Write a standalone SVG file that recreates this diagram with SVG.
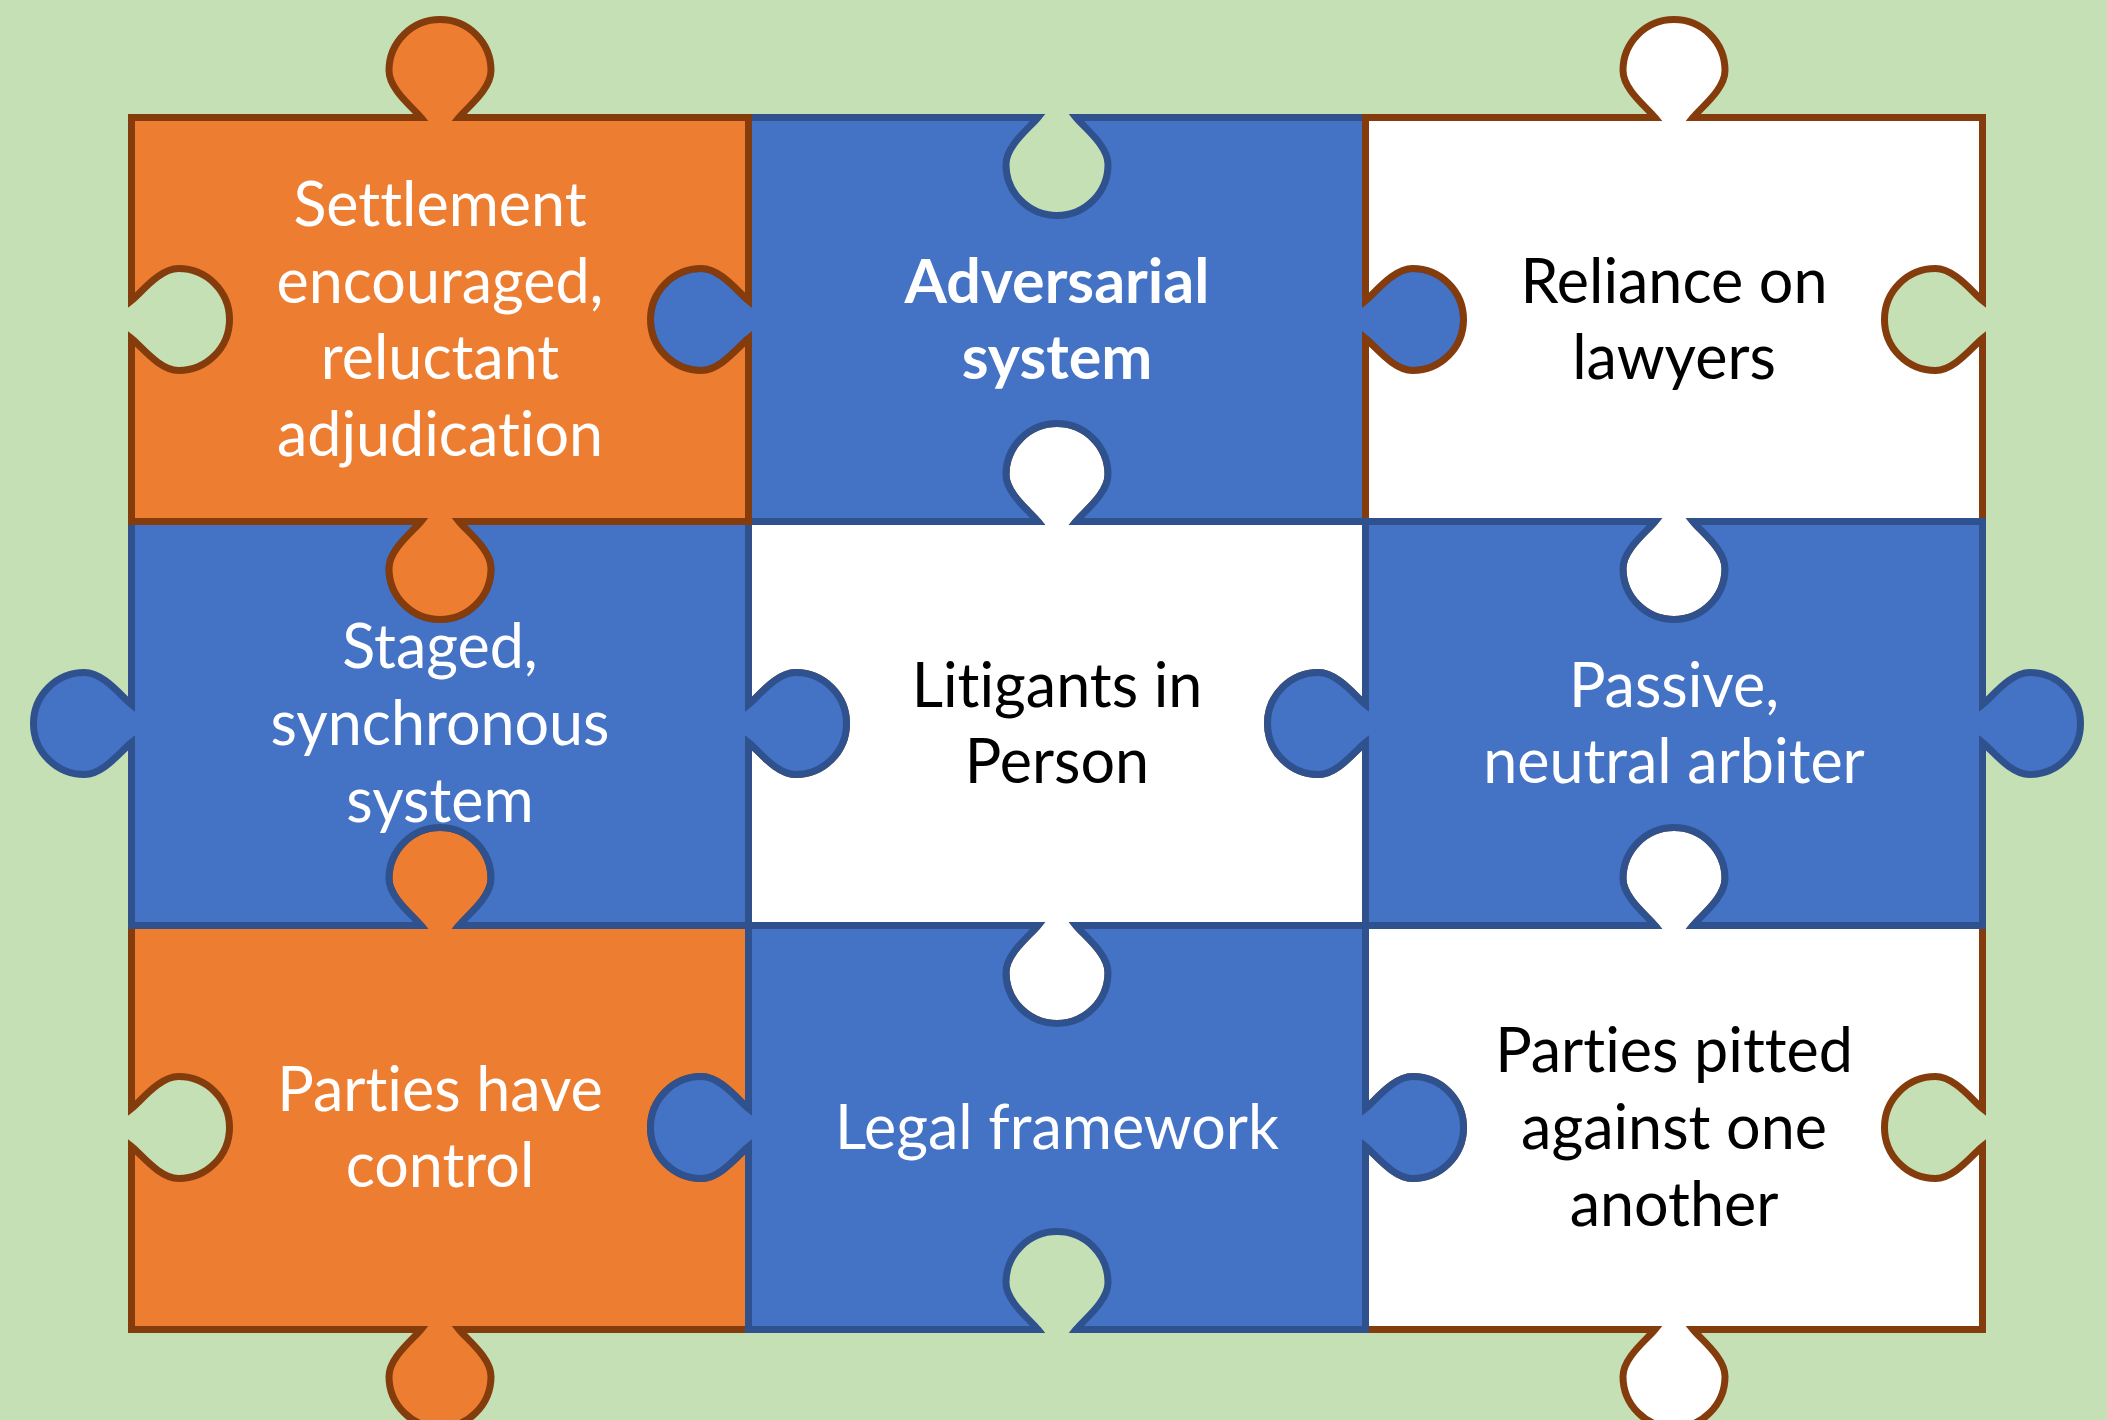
<svg xmlns="http://www.w3.org/2000/svg" width="2107" height="1420" viewBox="0 0 2107 1420">
  <style>
    .piece { stroke-width: 7; stroke-linejoin: miter; }
    .orange { fill: #ED7D31; stroke: #843C0C; }
    .blue { fill: #4472C4; stroke: #2F528F; }
    .white { fill: #FFFFFF; stroke: #843C0C; }
    .lbl { font-family: Lato, "Liberation Sans", sans-serif; font-size: 61px; text-anchor: middle;
           font-variant-ligatures: none; font-feature-settings: "liga" 0, "clig" 0, "dlig" 0; }
    .light { fill: #FFFFFF; }
    .dark { fill: #000000; }
    .bold { font-weight: bold; }
  </style>

  <!-- background -->
  <rect x="0" y="0" width="2107" height="1420" fill="#C5E0B4"/>

  <!-- 3x3 jigsaw; pieces listed bottom-most first so overlapping outlines stack correctly -->

  <g id="parties-have-control">
    <path class="piece orange" d="M 131.5,925.5 L 421,925.5 C 413,915.5 389,897.5 389,878.5 A 51 51 0 0 1 491,878.5 C 491,897.5 467,915.5 459,925.5 L 748.5,925.5 L 748.5,1108.5 C 738.5,1100.5 720.5,1076.5 701.5,1076.5 A 51 51 0 0 0 701.5,1178.5 C 720.5,1178.5 738.5,1154.5 748.5,1146.5 L 748.5,1329.5 L 459,1329.5 C 467,1339.5 491,1357.5 491,1376.5 A 51 51 0 0 1 389,1376.5 C 389,1357.5 413,1339.5 421,1329.5 L 131.5,1329.5 L 131.5,1146.5 C 141.5,1154.5 159.5,1178.5 178.5,1178.5 A 51 51 0 0 0 178.5,1076.5 C 159.5,1076.5 141.5,1100.5 131.5,1108.5 Z"/>
    <text class="lbl light" x="440" y="1110.6">Parties have</text>
    <text class="lbl light" x="440" y="1187.4">control</text>
  </g>

  <g id="litigants-in-person">
    <path class="piece white" d="M 748.5,521.5 L 1038,521.5 C 1030,511.5 1006,493.5 1006,474.5 A 51 51 0 0 1 1108,474.5 C 1108,493.5 1084,511.5 1076,521.5 L 1365.5,521.5 L 1365.5,704.5 C 1355.5,696.5 1337.5,672.5 1318.5,672.5 A 51 51 0 0 0 1318.5,774.5 C 1337.5,774.5 1355.5,750.5 1365.5,742.5 L 1365.5,925.5 L 1076,925.5 C 1084,935.5 1108,953.5 1108,972.5 A 51 51 0 0 1 1006,972.5 C 1006,953.5 1030,935.5 1038,925.5 L 748.5,925.5 L 748.5,742.5 C 758.5,750.5 776.5,774.5 795.5,774.5 A 51 51 0 0 0 795.5,672.5 C 776.5,672.5 758.5,696.5 748.5,704.5 Z"/>
    <text class="lbl dark" x="1057" y="706.6">Litigants in</text>
    <text class="lbl dark" x="1057" y="783.4">Person</text>
  </g>

  <g id="parties-pitted">
    <path class="piece white" d="M 1365.5,925.5 L 1655,925.5 C 1647,915.5 1623,897.5 1623,878.5 A 51 51 0 0 1 1725,878.5 C 1725,897.5 1701,915.5 1693,925.5 L 1982.5,925.5 L 1982.5,1108.5 C 1972.5,1100.5 1954.5,1076.5 1935.5,1076.5 A 51 51 0 0 0 1935.5,1178.5 C 1954.5,1178.5 1972.5,1154.5 1982.5,1146.5 L 1982.5,1329.5 L 1693,1329.5 C 1701,1339.5 1725,1357.5 1725,1376.5 A 51 51 0 0 1 1623,1376.5 C 1623,1357.5 1647,1339.5 1655,1329.5 L 1365.5,1329.5 L 1365.5,1146.5 C 1375.5,1154.5 1393.5,1178.5 1412.5,1178.5 A 51 51 0 0 0 1412.5,1076.5 C 1393.5,1076.5 1375.5,1100.5 1365.5,1108.5 Z"/>
    <text class="lbl dark" x="1674" y="1072.2">Parties pitted</text>
    <text class="lbl dark" x="1674" y="1149">against one</text>
    <text class="lbl dark" x="1674" y="1225.8">another</text>
  </g>

  <g id="adversarial-system">
    <path class="piece blue" d="M 748.5,117.5 L 1038,117.5 C 1030,127.5 1006,145.5 1006,164.5 A 51 51 0 0 0 1108,164.5 C 1108,145.5 1084,127.5 1076,117.5 L 1365.5,117.5 L 1365.5,300.5 C 1375.5,292.5 1393.5,268.5 1412.5,268.5 A 51 51 0 0 1 1412.5,370.5 C 1393.5,370.5 1375.5,346.5 1365.5,338.5 L 1365.5,521.5 L 1076,521.5 C 1084,511.5 1108,493.5 1108,474.5 A 51 51 0 0 0 1006,474.5 C 1006,493.5 1030,511.5 1038,521.5 L 748.5,521.5 L 748.5,338.5 C 738.5,346.5 720.5,370.5 701.5,370.5 A 51 51 0 0 1 701.5,268.5 C 720.5,268.5 738.5,292.5 748.5,300.5 Z"/>
    <text class="lbl light bold" x="1057" y="302.6">Adversarial</text>
    <text class="lbl light bold" x="1057" y="379.4">system</text>
  </g>

  <g id="staged-synchronous">
    <path class="piece blue" d="M 131.5,521.5 L 421,521.5 C 413,531.5 389,549.5 389,568.5 A 51 51 0 0 0 491,568.5 C 491,549.5 467,531.5 459,521.5 L 748.5,521.5 L 748.5,704.5 C 758.5,696.5 776.5,672.5 795.5,672.5 A 51 51 0 0 1 795.5,774.5 C 776.5,774.5 758.5,750.5 748.5,742.5 L 748.5,925.5 L 459,925.5 C 467,915.5 491,897.5 491,878.5 A 51 51 0 0 0 389,878.5 C 389,897.5 413,915.5 421,925.5 L 131.5,925.5 L 131.5,742.5 C 121.5,750.5 103.5,774.5 84.5,774.5 A 51 51 0 0 1 84.5,672.5 C 103.5,672.5 121.5,696.5 131.5,704.5 Z"/>
    <text class="lbl light" x="440" y="668.2">Staged,</text>
    <text class="lbl light" x="440" y="745">synchronous</text>
    <text class="lbl light" x="440" y="821.8">system</text>
  </g>

  <g id="legal-framework">
    <path class="piece blue" d="M 748.5,925.5 L 1038,925.5 C 1030,935.5 1006,953.5 1006,972.5 A 51 51 0 0 0 1108,972.5 C 1108,953.5 1084,935.5 1076,925.5 L 1365.5,925.5 L 1365.5,1108.5 C 1375.5,1100.5 1393.5,1076.5 1412.5,1076.5 A 51 51 0 0 1 1412.5,1178.5 C 1393.5,1178.5 1375.5,1154.5 1365.5,1146.5 L 1365.5,1329.5 L 1076,1329.5 C 1084,1319.5 1108,1301.5 1108,1282.5 A 51 51 0 0 0 1006,1282.5 C 1006,1301.5 1030,1319.5 1038,1329.5 L 748.5,1329.5 L 748.5,1146.5 C 738.5,1154.5 720.5,1178.5 701.5,1178.5 A 51 51 0 0 1 701.5,1076.5 C 720.5,1076.5 738.5,1100.5 748.5,1108.5 Z"/>
    <text class="lbl light" x="1057" y="1149">Legal framework</text>
  </g>

  <g id="settlement-encouraged">
    <path class="piece orange" d="M 131.5,117.5 L 421,117.5 C 413,107.5 389,89.5 389,70.5 A 51 51 0 0 1 491,70.5 C 491,89.5 467,107.5 459,117.5 L 748.5,117.5 L 748.5,300.5 C 738.5,292.5 720.5,268.5 701.5,268.5 A 51 51 0 0 0 701.5,370.5 C 720.5,370.5 738.5,346.5 748.5,338.5 L 748.5,521.5 L 459,521.5 C 467,531.5 491,549.5 491,568.5 A 51 51 0 0 1 389,568.5 C 389,549.5 413,531.5 421,521.5 L 131.5,521.5 L 131.5,338.5 C 141.5,346.5 159.5,370.5 178.5,370.5 A 51 51 0 0 0 178.5,268.5 C 159.5,268.5 141.5,292.5 131.5,300.5 Z"/>
    <text class="lbl light" x="440" y="225.8">Settlement</text>
    <text class="lbl light" x="440" y="302.6">encouraged,</text>
    <text class="lbl light" x="440" y="379.4">reluctant</text>
    <text class="lbl light" x="440" y="456.2">adjudication</text>
  </g>

  <g id="reliance-on-lawyers">
    <path class="piece white" d="M 1365.5,117.5 L 1655,117.5 C 1647,107.5 1623,89.5 1623,70.5 A 51 51 0 0 1 1725,70.5 C 1725,89.5 1701,107.5 1693,117.5 L 1982.5,117.5 L 1982.5,300.5 C 1972.5,292.5 1954.5,268.5 1935.5,268.5 A 51 51 0 0 0 1935.5,370.5 C 1954.5,370.5 1972.5,346.5 1982.5,338.5 L 1982.5,521.5 L 1693,521.5 C 1701,531.5 1725,549.5 1725,568.5 A 51 51 0 0 1 1623,568.5 C 1623,549.5 1647,531.5 1655,521.5 L 1365.5,521.5 L 1365.5,338.5 C 1375.5,346.5 1393.5,370.5 1412.5,370.5 A 51 51 0 0 0 1412.5,268.5 C 1393.5,268.5 1375.5,292.5 1365.5,300.5 Z"/>
    <text class="lbl dark" x="1674" y="302.6">Reliance on</text>
    <text class="lbl dark" x="1674" y="379.4">lawyers</text>
  </g>

  <g id="passive-neutral-arbiter">
    <path class="piece blue" d="M 1365.5,521.5 L 1655,521.5 C 1647,531.5 1623,549.5 1623,568.5 A 51 51 0 0 0 1725,568.5 C 1725,549.5 1701,531.5 1693,521.5 L 1982.5,521.5 L 1982.5,704.5 C 1992.5,696.5 2010.5,672.5 2029.5,672.5 A 51 51 0 0 1 2029.5,774.5 C 2010.5,774.5 1992.5,750.5 1982.5,742.5 L 1982.5,925.5 L 1693,925.5 C 1701,915.5 1725,897.5 1725,878.5 A 51 51 0 0 0 1623,878.5 C 1623,897.5 1647,915.5 1655,925.5 L 1365.5,925.5 L 1365.5,742.5 C 1355.5,750.5 1337.5,774.5 1318.5,774.5 A 51 51 0 0 1 1318.5,672.5 C 1337.5,672.5 1355.5,696.5 1365.5,704.5 Z"/>
    <text class="lbl light" x="1674" y="706.6">Passive,</text>
    <text class="lbl light" x="1674" y="783.4">neutral arbiter</text>
  </g>
</svg>
